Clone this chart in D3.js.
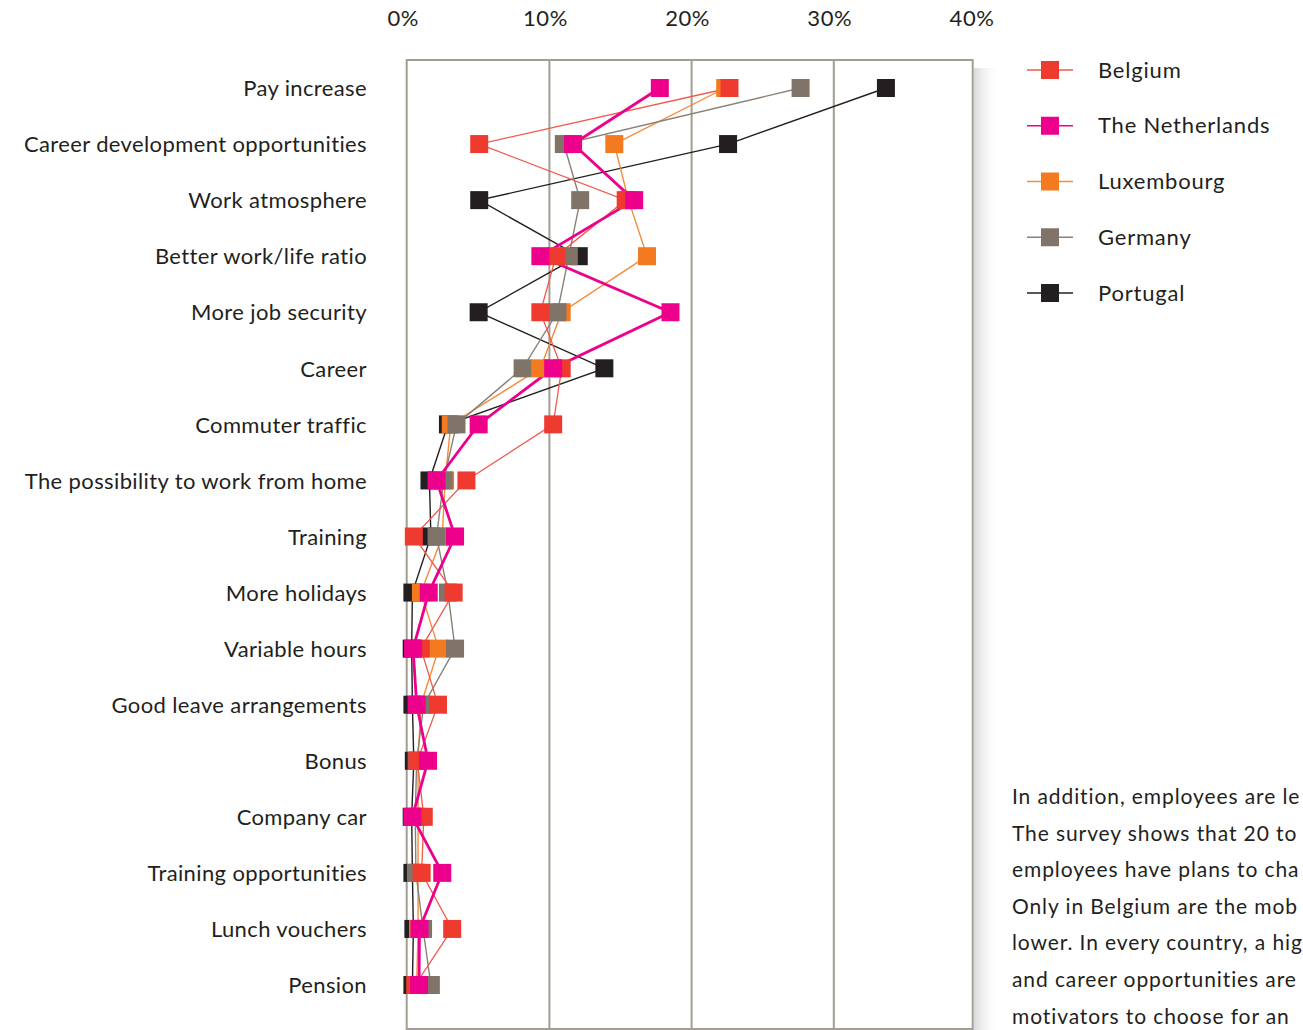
<!DOCTYPE html>
<html>
<head>
<meta charset="utf-8">
<script src="https://cdn.jsdelivr.net/npm/d3@7/dist/d3.min.js"></script>
<style>
  html, body { margin: 0; padding: 0; background: #ffffff; overflow: hidden; }
  svg { display: block; }
  text { font-family: Lato, "Open Sans", sans-serif; fill: #231f20; }
</style>
</head>
<body>
<svg id="chart" width="1303" height="1030"></svg>
<script>
// Reasons to change employer, share of respondents (%) per country
const categories = [
  "Pay increase",
  "Career development opportunities",
  "Work atmosphere",
  "Better work/life ratio",
  "More job security",
  "Career",
  "Commuter traffic",
  "The possibility to work from home",
  "Training",
  "More holidays",
  "Variable hours",
  "Good leave arrangements",
  "Bonus",
  "Company car",
  "Training opportunities",
  "Lunch vouchers",
  "Pension"
];

const countries = ["Belgium", "The Netherlands", "Luxembourg", "Germany", "Portugal"];

const belgium     = [22.7, 5.1, 15.4, 10.5, 9.4, 10.9, 10.3, 4.2, 0.5, 3.3, 1.0, 2.2, 0.75, 1.2, 1.05, 3.2, 0.6];
const netherlands = [17.8, 11.7, 16.0, 9.4, 18.55, 10.3, 5.06, 2.1, 3.4, 1.55, 0.45, 0.7, 1.5, 0.4, 2.5, 0.9, 0.87];
const luxembourg  = [22.4, 14.6, 15.6, 16.9, 10.9, 9.4, 3.1, 2.7, 2.5, 1.0, 2.25, 1.0, 0.8, 0.8, 0.8, 0.8, 0.7];
const germany     = [27.7, 11.05, 12.2, 11.4, 10.6, 8.15, 3.5, 2.6, 2.1, 2.9, 3.4, 1.2, 0.7, 0.6, 0.65, 1.15, 1.7];
const portugal    = [33.7, 22.6, 5.1, 12.1, 5.06, 13.9, 2.9, 1.6, 1.7, 0.4, 0.35, 0.4, 0.5, 0.35, 0.4, 0.47, 0.4];

const xTicks = [0, 10, 20, 30, 40];

// Opening lines of the accompanying text column, as far as the page width shows them
const paragraph = [
  "In addition, employees are le",
  "The survey shows that 20 to",
  "employees have plans to cha",
  "Only in Belgium are the mob",
  "lower. In every country, a hig",
  "and career opportunities are",
  "motivators to choose for an"
];

// Series styling, in drawing order (bottom to top)
const series = [
  { name: "Portugal",        values: portugal,    color: "#231f20", line: "#231f20", width: 1.4 },
  { name: "Luxembourg",      values: luxembourg,  color: "#f47a20", line: "#f58a3a", width: 1.4 },
  { name: "Germany",         values: germany,     color: "#807468", line: "#8a8076", width: 1.4 },
  { name: "Belgium",         values: belgium,     color: "#ee3a2f", line: "#f05a4c", width: 1.3 },
  { name: "The Netherlands", values: netherlands, color: "#ec008c", line: "#ec008c", width: 2.8 }
];
const legendOrder = countries.map(c => series.find(s => s.name === c));

const svg = d3.select("#chart");

const frame = { left: 406.7, right: 972.7, top: 60, bottom: 1029 };

const x = d3.scaleLinear().domain([0, 40]).range([406.7, 975.5]);
const y = d3.scalePoint().domain(categories).range([88, 985]);

// Soft shadow on the right side of the plot frame
const defs = svg.append("defs");
const grad = defs.append("linearGradient").attr("id", "shade").attr("x1", 0).attr("x2", 1).attr("y1", 0).attr("y2", 0);
grad.append("stop").attr("offset", 0).attr("stop-color", "#c9cbce").attr("stop-opacity", 0.75);
grad.append("stop").attr("offset", 1).attr("stop-color", "#ffffff").attr("stop-opacity", 0);
svg.append("rect")
  .attr("x", frame.right + 1).attr("y", frame.top + 8)
  .attr("width", 26).attr("height", frame.bottom - frame.top)
  .attr("fill", "url(#shade)");

// Vertical gridlines
svg.append("g")
  .attr("transform", `translate(0,${frame.top})`)
  .call(d3.axisBottom(x).tickValues([10, 20, 30]).tickSize(frame.bottom - frame.top).tickFormat(""))
  .call(g => g.select(".domain").remove())
  .call(g => g.selectAll("line").attr("stroke", "#a39d93").attr("stroke-width", 2));

// Plot frame
svg.append("rect")
  .attr("x", frame.left).attr("y", frame.top)
  .attr("width", frame.right - frame.left).attr("height", frame.bottom - frame.top)
  .attr("fill", "none").attr("stroke", "#a39d93").attr("stroke-width", 2);

// Top percentage labels
svg.append("g")
  .attr("transform", "translate(-4,26)")
  .call(d3.axisTop(x).tickValues(xTicks).tickSize(0).tickPadding(0).tickFormat(d => d + "%"))
  .call(g => g.select(".domain").remove())
  .call(g => g.selectAll("text")
    .attr("font-family", "Lato, sans-serif")
    .attr("font-size", 22)
    .attr("letter-spacing", 0.6)
    .attr("fill", "#231f20")
    .attr("dy", 0));

// Category labels
svg.append("g")
  .attr("transform", `translate(367,0)`)
  .call(d3.axisLeft(y).tickSize(0).tickPadding(0))
  .call(g => g.select(".domain").remove())
  .call(g => g.selectAll("text")
    .attr("font-family", "Lato, sans-serif")
    .attr("font-size", 22)
    .attr("letter-spacing", 0.38)
    .attr("fill", "#231f20")
    .attr("dy", "0.35em"));

// Connecting lines
const line = d3.line()
  .x(d => x(d.v))
  .y(d => y(d.c));

const lineLayer = svg.append("g");
series.forEach(s => {
  lineLayer.append("path")
    .datum(s.values.map((v, i) => ({ v, c: categories[i] })))
    .attr("d", line)
    .attr("fill", "none")
    .attr("stroke", s.line)
    .attr("stroke-width", s.width)
    .attr("stroke-linejoin", "miter");
});

// Square markers
const ms = 18;
const markerLayer = svg.append("g");
series.forEach(s => {
  markerLayer.append("g")
    .selectAll("rect")
    .data(s.values.map((v, i) => ({ v, c: categories[i] })))
    .join("rect")
    .attr("x", d => x(d.v) - ms / 2)
    .attr("y", d => y(d.c) - ms / 2)
    .attr("width", ms)
    .attr("height", ms)
    .attr("fill", s.color);
});

// Legend
const legendY = d3.scalePoint().domain(countries).range([70, 293]);
const legend = svg.append("g");
legendOrder.forEach(s => {
  const g = legend.append("g").attr("transform", `translate(0,${legendY(s.name)})`);
  g.append("line").attr("x1", 1027).attr("x2", 1073).attr("y1", 0).attr("y2", 0)
    .attr("stroke", s.line).attr("stroke-width", s.name === "The Netherlands" ? 1.6 : 1.3);
  g.append("rect").attr("x", 1050 - ms / 2).attr("y", -ms / 2).attr("width", ms).attr("height", ms)
    .attr("fill", s.color);
  g.append("text").attr("x", 1098).attr("y", 0).attr("dy", "0.35em")
    .attr("font-size", 22).attr("letter-spacing", 0.8).text(s.name);
});

// Body text beside the chart
svg.append("g")
  .selectAll("text")
  .data(paragraph)
  .join("text")
  .attr("x", 1012)
  .attr("y", (d, i) => 804 + i * 36.6)
  .attr("font-size", 21)
  .attr("letter-spacing", 0.9)
  .text(d => d);
</script>
</body>
</html>
